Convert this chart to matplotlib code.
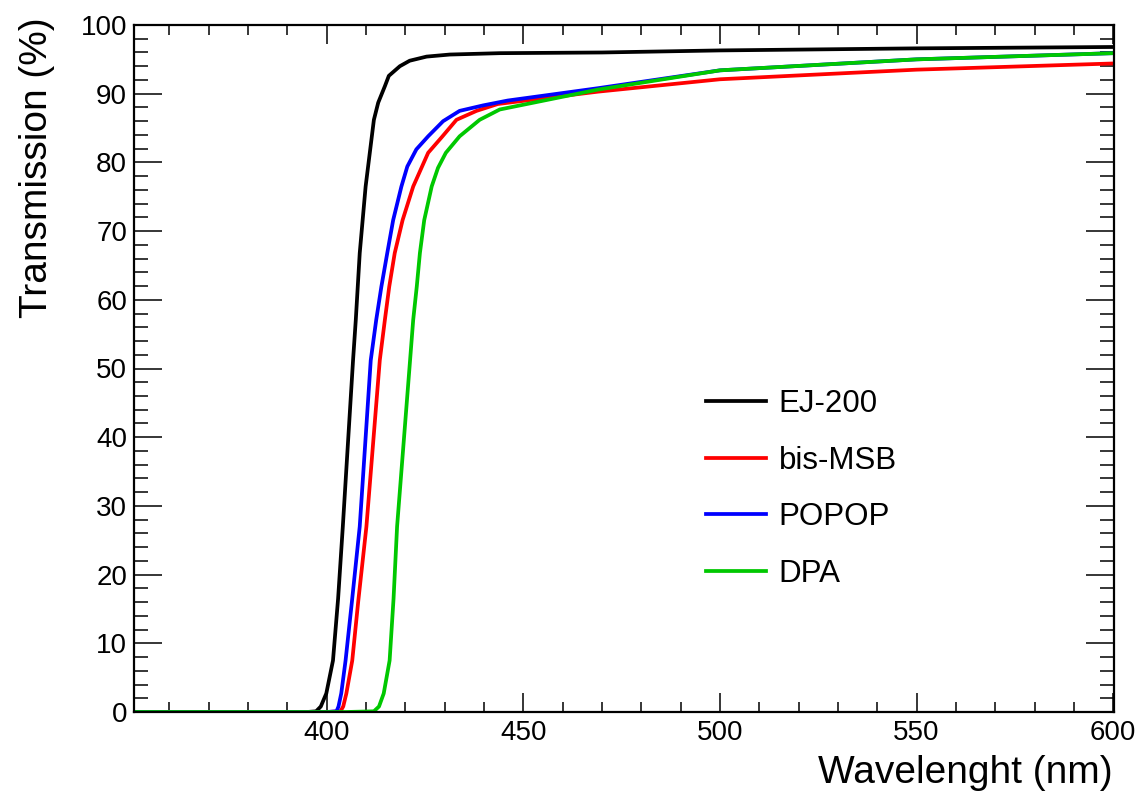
#!/usr/bin/env python3
"""Transmission curves of EJ-200 and the three wavelength shifters."""
import matplotlib
matplotlib.use('Agg')
import matplotlib.pyplot as plt
from matplotlib.ticker import MultipleLocator

plt.rcParams['font.family'] = ['Liberation Sans', 'DejaVu Sans']

# wavelength (nm) / transmission (%)
ej200_wl = [351, 380, 395, 397.3, 398.5, 399.9, 401.6, 402.9, 404.1, 406.7, 407.4,
            408.4, 409.9, 412.0, 413.1, 414.8, 415.8, 418.6, 421.1, 425.4, 431.3,
            444.0, 470, 500, 550, 600]
ej200_tr = [0.0, 0.0, 0.0, 0.1, 0.8, 2.7, 7.5, 16.5, 27.0, 51.2, 57.1,
            66.8, 76.5, 86.2, 88.7, 91.1, 92.6, 94.0, 94.8, 95.4, 95.7,
            95.9, 96.0, 96.3, 96.6, 96.8]

bismsb_wl = [351, 380, 400, 403.5, 404.2, 405.0, 406.5, 408.0, 410.1, 413.5, 414.8,
             415.9, 417.3, 419.3, 422.0, 425.8, 429.3, 433.0, 438.1, 443.5, 469,
             500, 550, 600]
bismsb_tr = [0.0, 0.0, 0.0, 0.1, 0.8, 2.7, 7.5, 16.0, 27.0, 51.2, 57.1,
             61.9, 66.8, 71.6, 76.5, 81.4, 83.7, 86.2, 87.5, 88.5, 90.3,
             92.1, 93.5, 94.4]

popop_wl = [351, 380, 400, 402.5, 403.0, 403.7, 404.8, 406.4, 408.4, 411.2, 412.6,
            413.9, 415.4, 416.9, 419.0, 420.5, 422.8, 425.8, 429.6, 433.8, 439.8,
            446.0, 469, 500, 550, 600]
popop_tr = [0.0, 0.0, 0.0, 0.1, 0.8, 2.7, 7.5, 16.0, 27.0, 51.2, 57.1,
            61.9, 66.8, 71.6, 76.5, 79.4, 81.9, 83.8, 86.0, 87.5, 88.3,
            89.0, 90.8, 93.4, 95.0, 95.9]

dpa_wl = [351, 380, 405, 412.0, 413.3, 414.5, 416.0, 417.0, 417.9, 421.2, 422.0,
          422.9, 423.7, 424.8, 426.7, 428.3, 430.3, 433.8, 438.9, 444.0, 469,
          500, 550, 600]
dpa_tr = [0.0, 0.0, 0.0, 0.1, 0.8, 2.7, 7.5, 16.5, 27.0, 51.2, 57.1,
          61.9, 66.8, 71.6, 76.5, 79.2, 81.4, 83.8, 86.2, 87.7, 90.6,
          93.4, 95.0, 95.9]

fig = plt.figure(figsize=(11.38, 7.95), dpi=100)
ax = fig.add_axes([134 / 1138, 1 - 712 / 795, (1114 - 134) / 1138, (712 - 25) / 795])

lw = 2.7
ax.plot(ej200_wl, ej200_tr, color='black', lw=lw, label='EJ-200')
ax.plot(bismsb_wl, bismsb_tr, color='#ff0000', lw=lw, label='bis-MSB')
ax.plot(popop_wl, popop_tr, color='#0000ff', lw=lw, label='POPOP')
ax.plot(dpa_wl, dpa_tr, color='#00c800', lw=lw, label='DPA')

ax.set_xlim(351, 600.2)
ax.set_ylim(0, 100)

# ROOT-like frame: ticks inside on all four sides
ax.xaxis.set_major_locator(MultipleLocator(50))
ax.xaxis.set_minor_locator(MultipleLocator(10))
ax.yaxis.set_major_locator(MultipleLocator(10))
ax.yaxis.set_minor_locator(MultipleLocator(2))
ax.tick_params(axis='x', which='major', direction='in', top=True, bottom=True,
               length=14, width=1.1, labelsize=20, pad=6)
ax.tick_params(axis='x', which='minor', direction='in', top=True, bottom=True,
               length=7, width=1.1)
ax.tick_params(axis='y', which='major', direction='in', left=True, right=True,
               length=20, width=1.1, labelsize=20, pad=5)
ax.tick_params(axis='y', which='minor', direction='in', left=True, right=True,
               length=10, width=1.1)
for s in ax.spines.values():
    s.set_linewidth(1.6)

fig.text(1113 / 1138, 1 - 783 / 795, 'Wavelenght (nm)', fontsize=28,
         ha='right', va='baseline')
fig.text(37 / 1138, 1 - 17 / 795, 'Transmission (%)', fontsize=28,
         rotation=90, ha='center', va='top')

ax.legend(loc='upper left', bbox_to_anchor=(0.584, 0.470), frameon=False,
          fontsize=22.5, borderpad=0, borderaxespad=0, handlelength=1.9,
          handletextpad=0.42, labelspacing=0.85)

fig.savefig('out.png', dpi=100)
